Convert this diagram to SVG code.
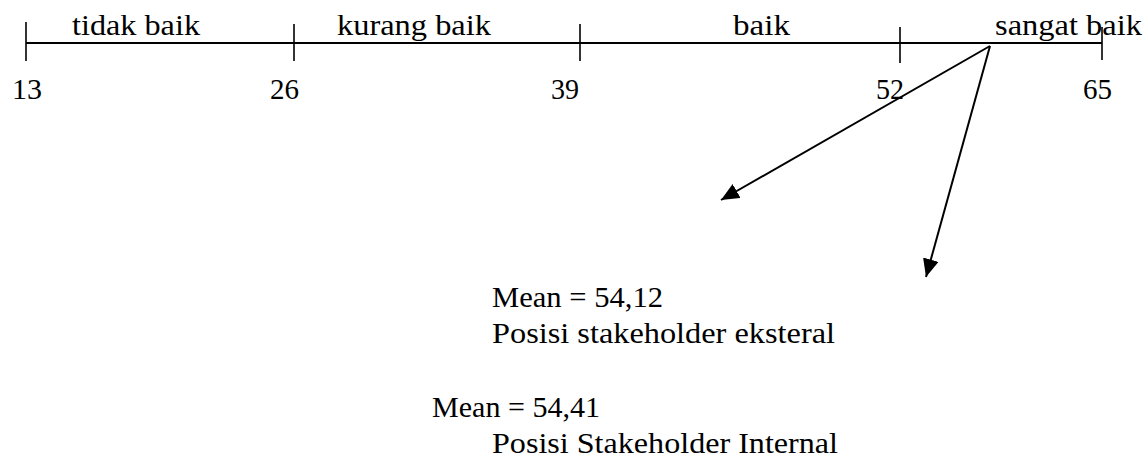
<svg xmlns="http://www.w3.org/2000/svg" width="1145" height="457" viewBox="0 0 1145 457">
  <style>
    text { font-family: "Liberation Serif", "Times New Roman", serif; font-size: 29px; fill: #000; }
    .axis { stroke: #000; stroke-width: 2; fill: none; }
    .tick { stroke: #000; stroke-width: 1.6; fill: none; }
    .conn { stroke: #000; stroke-width: 2; fill: none; marker-end: url(#arr); }
  </style>
  <defs>
    <marker id="arr" markerUnits="userSpaceOnUse" markerWidth="20" markerHeight="18" refX="18" refY="8" orient="auto">
      <path d="M0,0 L18,8 L0,16 Z" fill="#000"/>
    </marker>
  </defs>
  <rect width="1145" height="457" fill="#fff"/>

  <g id="scale">
    <line class="axis" x1="26" y1="43" x2="1102" y2="43"/>
    <line class="tick" x1="26" y1="22" x2="26" y2="61"/>
    <line class="tick" x1="294" y1="24" x2="294" y2="61"/>
    <line class="tick" x1="580" y1="24" x2="580" y2="61"/>
    <line class="tick" x1="900" y1="27" x2="900" y2="63"/>
    <line class="tick" x1="1102" y1="27" x2="1102" y2="60"/>
  </g>

  <g id="categories">
    <text x="72" y="35" textLength="128" lengthAdjust="spacingAndGlyphs">tidak baik</text>
    <text x="337" y="35" textLength="154" lengthAdjust="spacingAndGlyphs">kurang baik</text>
    <text x="733" y="35" textLength="57" lengthAdjust="spacingAndGlyphs">baik</text>
    <text x="995" y="35" textLength="147" lengthAdjust="spacingAndGlyphs">sangat baik</text>
  </g>

  <g id="values">
    <text x="12" y="99" textLength="30" lengthAdjust="spacingAndGlyphs">13</text>
    <text x="270" y="99" textLength="29" lengthAdjust="spacingAndGlyphs">26</text>
    <text x="551" y="99" textLength="28" lengthAdjust="spacingAndGlyphs">39</text>
    <text x="876" y="99" textLength="28" lengthAdjust="spacingAndGlyphs">52</text>
    <text x="1083" y="99" textLength="29" lengthAdjust="spacingAndGlyphs">65</text>
  </g>

  <g id="connectors">
    <line class="conn" x1="990" y1="46" x2="721" y2="200"/>
    <line class="conn" x1="990" y1="46" x2="926" y2="277"/>
  </g>

  <g id="external">
    <text x="492" y="307" textLength="171" lengthAdjust="spacingAndGlyphs">Mean = 54,12</text>
    <text x="492" y="343" textLength="343" lengthAdjust="spacingAndGlyphs">Posisi stakeholder eksteral</text>
  </g>

  <g id="internal">
    <text x="432" y="417" textLength="168" lengthAdjust="spacingAndGlyphs">Mean = 54,41</text>
    <text x="492" y="453" textLength="346" lengthAdjust="spacingAndGlyphs">Posisi Stakeholder Internal</text>
  </g>
</svg>
